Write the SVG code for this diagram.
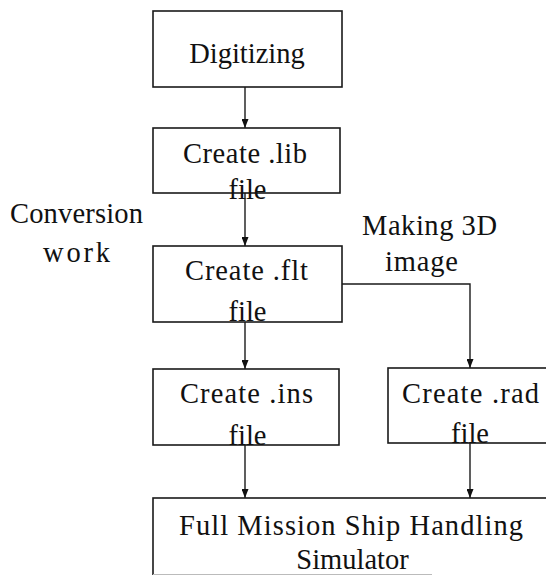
<svg xmlns="http://www.w3.org/2000/svg" width="546" height="575" viewBox="0 0 546 575">
  <defs>
    <marker id="arr" viewBox="0 0 9 7" refX="9" refY="3.5" markerWidth="9" markerHeight="7" markerUnits="userSpaceOnUse" orient="auto">
      <path d="M0,0 L9,3.5 L0,7 Z" fill="#111"/>
    </marker>
    <style>
      .box { fill: #fff; stroke: #1a1a1a; stroke-width: 1.6; }
      .t { font-size: 28.5px; fill: #111; text-anchor: middle; }
      .con { fill: none; stroke: #1a1a1a; stroke-width: 1.4; marker-end: url(#arr); }
    </style>
  </defs>
  <rect width="546" height="575" fill="#fff"/>

  <g id="connectors">
    <line class="con" x1="245" y1="87" x2="245" y2="128"/>
    <line class="con" x1="245" y1="193" x2="245" y2="246"/>
    <line class="con" x1="245" y1="322" x2="245" y2="369"/>
    <polyline class="con" points="342,284 470,284 470,368"/>
    <line class="con" x1="245" y1="445" x2="245" y2="498"/>
    <line class="con" x1="470" y1="443" x2="470" y2="498"/>
  </g>

  <g font-family="'Liberation Serif', 'DejaVu Serif', serif">
  <g id="digitizing">
    <rect class="box" x="153" y="11" width="189" height="76"/>
    <text class="t" x="247" y="63">Digitizing</text>
  </g>

  <g id="create-lib">
    <rect class="box" x="153" y="128" width="187" height="65"/>
    <text class="t" x="245" y="163" textLength="124" lengthAdjust="spacing">Create .lib</text>
    <text class="t" x="247.5" y="199">file</text>
  </g>

  <g id="create-flt">
    <rect class="box" x="153" y="246" width="189" height="76"/>
    <text class="t" x="246.5" y="280" textLength="123" lengthAdjust="spacing">Create .flt</text>
    <text class="t" x="247.5" y="321">file</text>
  </g>

  <g id="create-ins">
    <rect class="box" x="153" y="369" width="186" height="76"/>
    <text class="t" x="246.5" y="403" textLength="133" lengthAdjust="spacing">Create .ins</text>
    <text class="t" x="247.5" y="445">file</text>
  </g>

  <g id="create-rad">
    <rect class="box" x="388" y="368" width="170" height="75"/>
    <text class="t" x="470.5" y="403" textLength="137" lengthAdjust="spacing">Create .rad</text>
    <text class="t" x="470" y="443">file</text>
  </g>

  <g id="simulator">
    <rect class="box" x="153" y="498" width="400" height="90"/>
    <line x1="153" y1="574.5" x2="432" y2="574.5" stroke="#bbb" stroke-width="1"/>
    <text class="t" x="351" y="535" textLength="344" lengthAdjust="spacing">Full Mission Ship Handling</text>
    <text class="t" x="352.5" y="569">Simulator</text>
  </g>

  <g id="label-conversion">
    <text class="t" x="76.5" y="223" textLength="133" lengthAdjust="spacing">Conversion</text>
    <text class="t" x="76.5" y="262" textLength="67" lengthAdjust="spacing">work</text>
  </g>

  <g id="label-making">
    <text class="t" x="429.5" y="235" textLength="135" lengthAdjust="spacing">Making 3D</text>
    <text class="t" x="421.5" y="271" textLength="73" lengthAdjust="spacing">image</text>
  </g>
  </g>
</svg>
